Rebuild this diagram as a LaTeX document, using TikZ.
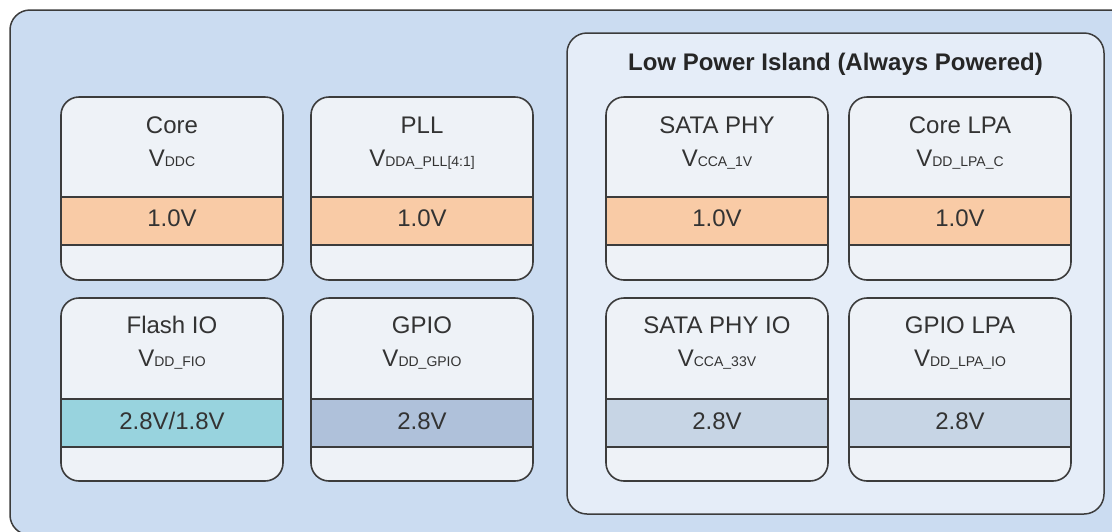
\documentclass[tikz,border=0pt]{standalone}
\usepackage{fontspec}
\setmainfont{Liberation Sans}
\usetikzlibrary{positioning}

\definecolor{chipblue}{HTML}{CBDCF1}
\definecolor{islandblue}{HTML}{E5EDF8}
\definecolor{cardfill}{HTML}{EEF2F7}
\definecolor{linegray}{HTML}{3C3C3C}
\definecolor{textgray}{HTML}{333333}
\definecolor{orangeband}{HTML}{F9CBA6}
\definecolor{tealband}{HTML}{98D3DE}
\definecolor{steelband}{HTML}{AFC1DA}
\definecolor{paleband}{HTML}{C7D5E5}

\newcommand{\rsub}[1]{{\fontsize{14}{14}\selectfont #1}}

\begin{document}
\begin{tikzpicture}[
        x=1pt, y=-1pt,
        chip/.style={rectangle, rounded corners=20pt, draw=linegray, line width=1.5pt, fill=chipblue, inner sep=0pt},
        island/.style={rectangle, rounded corners=20pt, draw=linegray, line width=1.5pt, fill=islandblue, inner sep=0pt},
        card/.style={rectangle, rounded corners=18pt, draw=linegray, line width=1.6pt, fill=cardfill, minimum width=222pt, minimum height=183pt, inner sep=0pt},
        band/.style={rectangle, draw=linegray, line width=1.6pt, fill=#1, minimum width=222pt, minimum height=48pt, inner sep=0pt},
        lbl/.style={anchor=base, inner sep=0pt, text=textgray, font=\fontsize{24}{24}\selectfont}
    ]
    \clip (0,0) rectangle (1112,531);

    \node[chip, minimum width=1130pt, minimum height=525pt] (soc) at (575,272.5) {};
    \node[island, minimum width=537pt, minimum height=481pt] (lpi) at (835.5,273.5) {};
    \node[lbl, font=\fontsize{24}{24}\selectfont\bfseries, text=black!85] (lpi-title) at ([yshift=-38pt]lpi.north) {Low Power Island (Always Powered)};

    % top row
    \node[card] (core) at (172,188.5) {};
    \node[band=orangeband, below=100pt of core.north] (core-band) {};
    \node[lbl] (core-name) at ([yshift=-37pt]core.north) {Core};
    \node[lbl] (core-rail) at ([yshift=-70pt]core.north) {V\rsub{DDC}};
    \node[lbl] (core-volt) at ([yshift=-30pt]core-band.north) {1.0V};

    \node[card] (pll) at (422,188.5) {};
    \node[band=orangeband, below=100pt of pll.north] (pll-band) {};
    \node[lbl] (pll-name) at ([yshift=-37pt]pll.north) {PLL};
    \node[lbl] (pll-rail) at ([yshift=-70pt]pll.north) {V\rsub{DDA\_PLL[4:1]}};
    \node[lbl] (pll-volt) at ([yshift=-30pt]pll-band.north) {1.0V};

    \node[card] (sata) at (717,188.5) {};
    \node[band=orangeband, below=100pt of sata.north] (sata-band) {};
    \node[lbl] (sata-name) at ([yshift=-37pt]sata.north) {SATA PHY};
    \node[lbl] (sata-rail) at ([yshift=-70pt]sata.north) {V\rsub{CCA\_1V}};
    \node[lbl] (sata-volt) at ([yshift=-30pt]sata-band.north) {1.0V};

    \node[card] (corelpa) at (960,188.5) {};
    \node[band=orangeband, below=100pt of corelpa.north] (corelpa-band) {};
    \node[lbl] (corelpa-name) at ([yshift=-37pt]corelpa.north) {Core LPA};
    \node[lbl] (corelpa-rail) at ([yshift=-70pt]corelpa.north) {V\rsub{DD\_LPA\_C}};
    \node[lbl] (corelpa-volt) at ([yshift=-30pt]corelpa-band.north) {1.0V};

    % bottom row
    \node[card] (fio) at (172,389.5) {};
    \node[band=tealband, below=101pt of fio.north] (fio-band) {};
    \node[lbl] (fio-name) at ([yshift=-36pt]fio.north) {Flash IO};
    \node[lbl] (fio-rail) at ([yshift=-69pt]fio.north) {V\rsub{DD\_FIO}};
    \node[lbl] (fio-volt) at ([yshift=-31pt]fio-band.north) {2.8V/1.8V};

    \node[card] (gpio) at (422,389.5) {};
    \node[band=steelband, below=101pt of gpio.north] (gpio-band) {};
    \node[lbl] (gpio-name) at ([yshift=-36pt]gpio.north) {GPIO};
    \node[lbl] (gpio-rail) at ([yshift=-69pt]gpio.north) {V\rsub{DD\_GPIO}};
    \node[lbl] (gpio-volt) at ([yshift=-31pt]gpio-band.north) {2.8V};

    \node[card] (sataio) at (717,389.5) {};
    \node[band=paleband, below=101pt of sataio.north] (sataio-band) {};
    \node[lbl] (sataio-name) at ([yshift=-36pt]sataio.north) {SATA PHY IO};
    \node[lbl] (sataio-rail) at ([yshift=-69pt]sataio.north) {V\rsub{CCA\_33V}};
    \node[lbl] (sataio-volt) at ([yshift=-31pt]sataio-band.north) {2.8V};

    \node[card] (gpiolpa) at (960,389.5) {};
    \node[band=paleband, below=101pt of gpiolpa.north] (gpiolpa-band) {};
    \node[lbl] (gpiolpa-name) at ([yshift=-36pt]gpiolpa.north) {GPIO LPA};
    \node[lbl] (gpiolpa-rail) at ([yshift=-69pt]gpiolpa.north) {V\rsub{DD\_LPA\_IO}};
    \node[lbl] (gpiolpa-volt) at ([yshift=-31pt]gpiolpa-band.north) {2.8V};
\end{tikzpicture}
\end{document}
